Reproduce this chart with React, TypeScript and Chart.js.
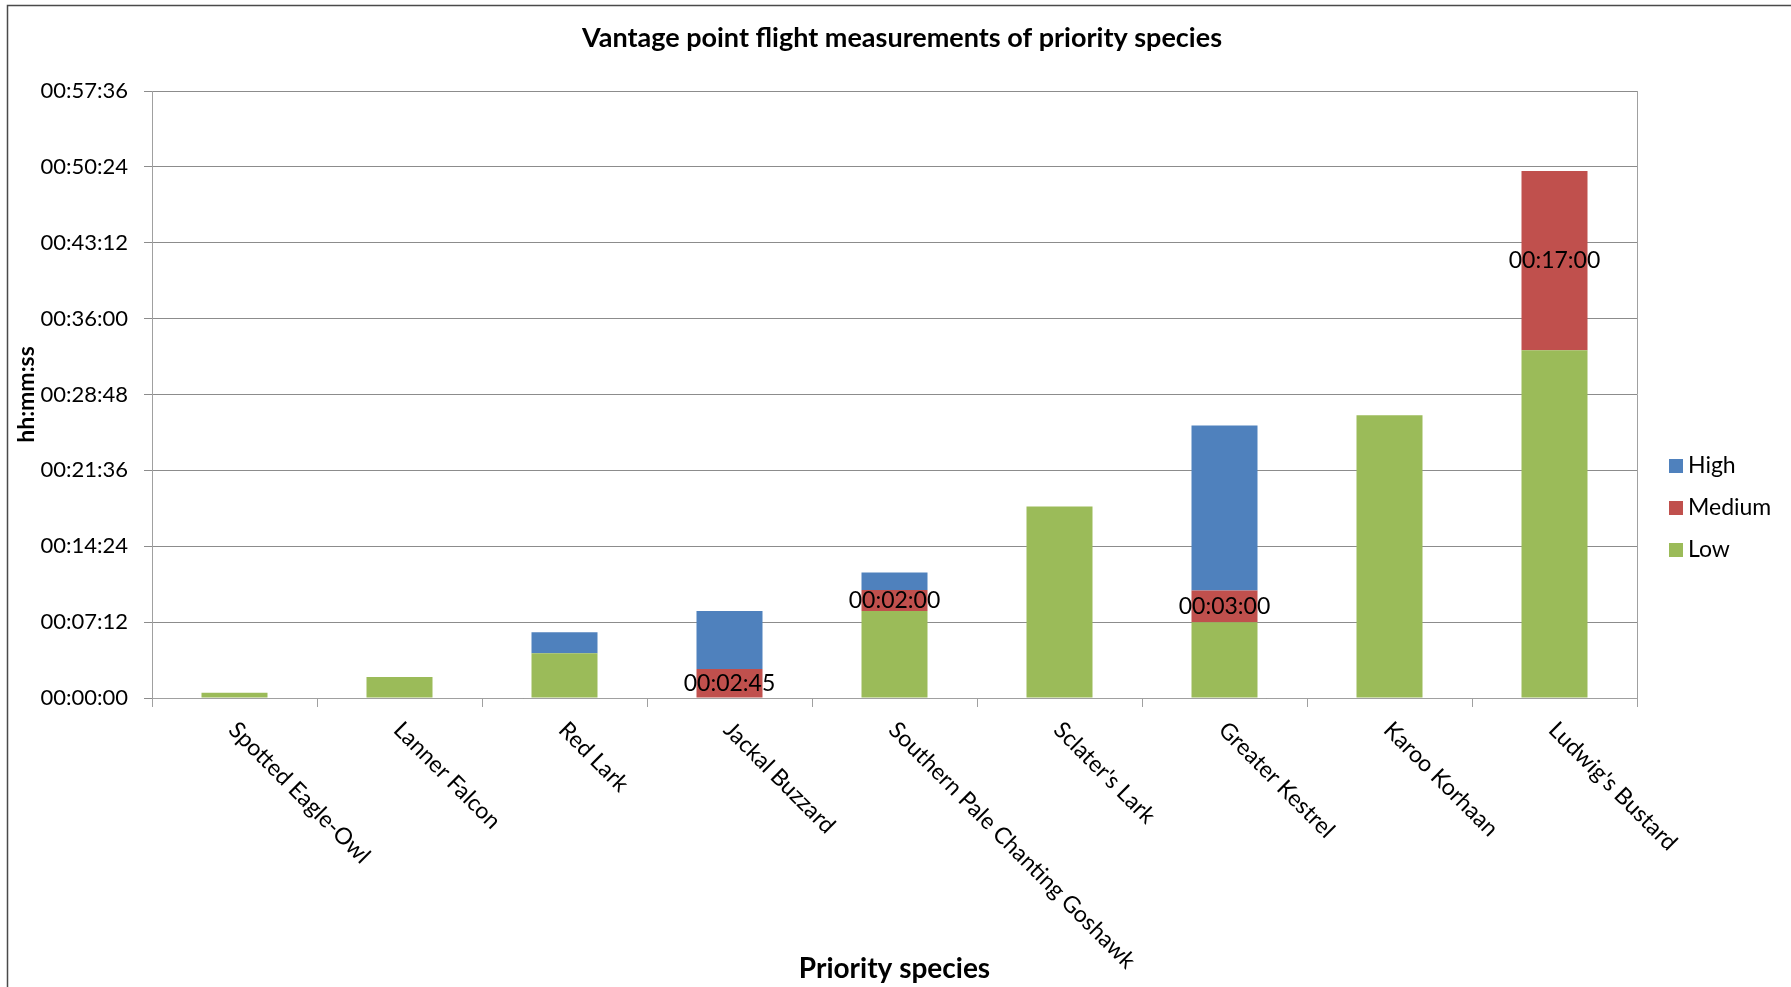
import React, { useEffect, useRef } from "react";
import { Chart, registerables } from "chart.js";

Chart.register(...registerables);

// ---- data (seconds) ----
const categories = [
  "Spotted Eagle-Owl",
  "Lanner Falcon",
  "Red Lark",
  "Jackal Buzzard",
  "Southern Pale Chanting Goshawk",
  "Sclater's Lark",
  "Greater Kestrel",
  "Karoo Korhaan",
  "Ludwig's Bustard",
];
const lowSeconds = [30, 120, 255, 0, 495, 1090, 432, 1610, 1980];
const mediumSeconds = [0, 0, 0, 165, 120, 0, 180, 0, 1020];
const highSeconds = [0, 0, 120, 330, 100, 0, 940, 0, 0];
const seriesNames = ["Low", "Medium", "High"];
const seriesColors = ["#9BBB59", "#C0504D", "#4F81BD"];
const yStepSeconds = 432;
const yMaxSeconds = 3456;
const chartTitle = "Vantage point flight measurements of priority species";

const FONT = "Lato, 'Noto Sans', sans-serif";

function fmtTime(v: number): string {
  const s = Math.round(v);
  const h = Math.floor(s / 3600);
  const m = Math.floor((s % 3600) / 60);
  const sec = s % 60;
  const p = (n: number) => String(n).padStart(2, "0");
  return `${p(h)}:${p(m)}:${p(sec)}`;
}

const framePlugin = {
  id: "frame",
  beforeDraw(chart: any) {
    const { ctx, width, height } = chart;
    ctx.save();
    ctx.fillStyle = "#ffffff";
    ctx.fillRect(0, 0, width, height);
    ctx.strokeStyle = "#4a4a4a";
    ctx.lineWidth = 1.5;
    ctx.beginPath();
    ctx.moveTo(7.5, height);
    ctx.lineTo(7.5, 5.5);
    ctx.lineTo(width, 5.5);
    ctx.stroke();
    ctx.restore();
  },
  afterDraw(chart: any) {
    const { ctx, chartArea } = chart;
    ctx.save();
    ctx.strokeStyle = "#a0a0a0";
    ctx.lineWidth = 1;
    ctx.beginPath();
    ctx.moveTo(Math.round(chartArea.right) + 0.5, chartArea.top);
    ctx.lineTo(Math.round(chartArea.right) + 0.5, chartArea.bottom);
    ctx.stroke();
    // title
    ctx.font = `bold 27px ${FONT}`;
    ctx.fillStyle = "#000000";
    ctx.textAlign = "center";
    ctx.textBaseline = "middle";
    ctx.fillText(chartTitle, 902, 38);
    ctx.restore();
  },
};

const categoryLabelPlugin = {
  id: "categoryLabels",
  afterDraw(chart: any) {
    const { ctx, chartArea } = chart;
    const xScale = chart.scales.x;
    ctx.save();
    ctx.font = `23px ${FONT}`;
    ctx.fillStyle = "#000000";
    ctx.textAlign = "left";
    ctx.textBaseline = "middle";
    categories.forEach((label, i) => {
      const x = xScale.getPixelForValue(i);
      ctx.save();
      ctx.translate(x - 2, chartArea.bottom + 28);
      ctx.rotate(Math.PI / 4);
      ctx.fillText(label, 0, 0);
      ctx.restore();
    });
    ctx.restore();
  },
};

const mediumLabelPlugin = {
  id: "mediumLabels",
  afterDatasetsDraw(chart: any) {
    const { ctx } = chart;
    const meta = chart.getDatasetMeta(1);
    ctx.save();
    ctx.font = `23px ${FONT}`;
    ctx.fillStyle = "#000000";
    ctx.textAlign = "center";
    ctx.textBaseline = "middle";
    meta.data.forEach((el: any, i: number) => {
      const v = mediumSeconds[i];
      if (!v) return;
      const y = (el.y + el.base) / 2;
      ctx.fillText(fmtTime(v), el.x, y);
    });
    ctx.restore();
  },
};

const legendPlugin = {
  id: "customLegend",
  afterDraw(chart: any) {
    const { ctx } = chart;
    const order = [2, 1, 0];
    ctx.save();
    ctx.font = `23px ${FONT}`;
    ctx.textAlign = "left";
    ctx.textBaseline = "middle";
    order.forEach((di, k) => {
      const cy = 466 + k * 42;
      ctx.fillStyle = seriesColors[di];
      ctx.fillRect(1669, cy - 7, 14, 14);
      ctx.fillStyle = "#000000";
      ctx.fillText(seriesNames[di], 1688, cy);
    });
    ctx.restore();
  },
};

export default function App() {
  const canvasRef = useRef<HTMLCanvasElement | null>(null);

  useEffect(() => {
    document.body.style.margin = "0";
    const canvas = canvasRef.current;
    if (!canvas) return;
    const chart = new Chart(canvas, {
      type: "bar",
      data: {
        labels: categories,
        datasets: [
          { label: seriesNames[0], data: lowSeconds, backgroundColor: seriesColors[0] },
          { label: seriesNames[1], data: mediumSeconds, backgroundColor: seriesColors[1] },
          { label: seriesNames[2], data: highSeconds, backgroundColor: seriesColors[2] },
        ],
      },
      options: {
        responsive: false,
        animation: false,
        devicePixelRatio: 1,
        datasets: {
          bar: { barPercentage: 0.4, categoryPercentage: 1.0, borderWidth: 0 },
        },
        layout: { padding: { left: 0, right: 154, top: 91, bottom: 0 } },
        plugins: {
          legend: { display: false },
          tooltip: { enabled: false },
          title: { display: false },
        },
        scales: {
          x: {
            stacked: true,
            offset: true,
            grid: {
              offset: true,
              drawOnChartArea: false,
              drawTicks: true,
              tickLength: 9,
              color: "#a0a0a0",
            },
            border: { display: true, color: "#a0a0a0" },
            ticks: { display: false },
            title: {
              display: true,
              text: "Priority species",
              color: "#000000",
              font: { family: FONT, size: 28, weight: "bold" },
              padding: { top: 0, bottom: 1 },
            },
            afterFit(scale: any) {
              scale.height = 289;
            },
          },
          y: {
            stacked: true,
            min: 0,
            max: yMaxSeconds,
            grid: {
              color: "#8c8c8c",
              tickLength: 8,
              drawTicks: true,
            },
            border: { display: true, color: "#a0a0a0" },
            ticks: {
              stepSize: yStepSeconds,
              padding: 16,
              color: "#000000",
              font: { family: FONT, size: 22 },
              callback: (v: any) => fmtTime(Number(v)),
            },
            title: {
              display: true,
              text: "hh:mm:ss",
              color: "#000000",
              font: { family: FONT, size: 23, weight: "bold" },
              padding: { top: 13, bottom: 0 },
            },
            afterFit(scale: any) {
              scale.width = 152;
            },
          },
        },
      },
      plugins: [framePlugin, mediumLabelPlugin, categoryLabelPlugin, legendPlugin],
    });
    return () => chart.destroy();
  }, []);

  return (
    <div style={{ width: 1791, height: 987, position: "relative" }}>
      <canvas ref={canvasRef} width={1791} height={987} style={{ display: "block" }} />
    </div>
  );
}
